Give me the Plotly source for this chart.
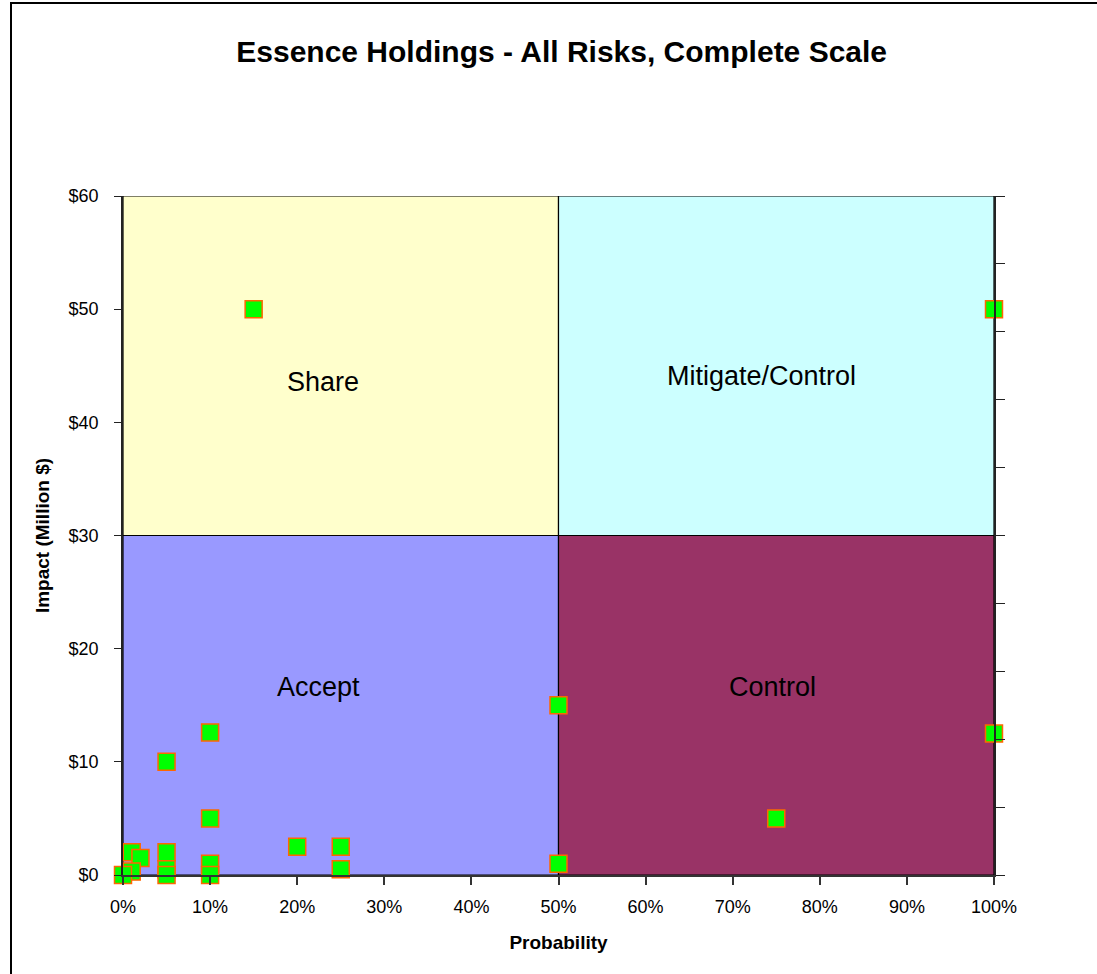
import plotly.graph_objects as go

# Risk register: probability (%) and impact (million $)
probability = [15, 100, 50, 50, 75, 100, 10, 5, 10, 20, 25, 25, 10, 10, 1, 2, 1, 0, 5, 5, 5]
impact = [50, 50, 15, 1, 5, 12.5, 12.6, 10, 5, 2.5, 2.5, 0.5, 1, 0, 2, 1.5, 0.3, 0, 2, 0.5, 0]

# Quadrants: name, x range (%), y range ($M), fill colour
quad_names = ["Accept", "Control", "Share", "Mitigate/Control"]
quad_x0 = [0, 50, 0, 50]
quad_x1 = [50, 100, 50, 100]
quad_y0 = [0, 0, 30, 30]
quad_y1 = [30, 30, 60, 60]
quad_colors = ["#9999FF", "#993366", "#FFFFCC", "#CCFFFF"]
label_x = [22.4, 74.6, 23.0, 73.3]
label_y = [16.6, 16.6, 43.6, 44.1]

x_ticks = list(range(0, 101, 10))
x_tick_text = [f"{v}%" for v in x_ticks]
y_ticks = list(range(0, 61, 10))
y_tick_text = [f"${v}" for v in y_ticks]

FONT = "Liberation Sans, Arial, sans-serif"

fig = go.Figure()

fig.add_trace(go.Scatter(
    x=probability, y=impact, mode="markers",
    marker=dict(symbol="square", size=17, color="#00FF00",
                line=dict(color="#FF6600", width=1.5)),
    cliponaxis=False, showlegend=False, hoverinfo="x+y",
))
# invisible trace so the secondary (right) axis is drawn
fig.add_trace(go.Scatter(x=[0], y=[0], yaxis="y2", mode="markers",
                         marker=dict(opacity=0), showlegend=False, hoverinfo="skip"))

shapes = []
for x0, x1, y0, y1, c in zip(quad_x0, quad_x1, quad_y0, quad_y1, quad_colors):
    shapes.append(dict(type="rect", xref="x", yref="y", x0=x0, x1=x1, y0=y0, y1=y1,
                       fillcolor=c, line=dict(color="black", width=1.2), layer="below"))
# outer frame of the chart area
shapes.append(dict(type="rect", xref="paper", yref="paper",
                   x0=(11 - 123) / 871, x1=(1110 - 123) / 871,
                   y0=(875 - 990) / 679, y1=(875 - 3) / 679,
                   line=dict(color="black", width=2), fillcolor="rgba(0,0,0,0)"))

annotations = [dict(x=lx, y=ly, xref="x", yref="y", text=n, showarrow=False,
                    font=dict(family=FONT, size=27, color="black"))
               for n, lx, ly in zip(quad_names, label_x, label_y)]

fig.update_layout(
    width=1097, height=974,
    margin=dict(l=123, r=103, t=196, b=99),
    paper_bgcolor="white", plot_bgcolor="white",
    font=dict(family=FONT, color="black", size=18),
    title=dict(text="<b>Essence Holdings - All Risks, Complete Scale</b>",
               x=0.512, xanchor="center", y=0.947, yanchor="middle",
               font=dict(family=FONT, size=30, color="black")),
    xaxis=dict(range=[0, 100], tickvals=x_ticks, ticktext=x_tick_text,
               ticks="outside", ticklen=8, tickcolor="#333", tickwidth=1.5,
               ticklabelstandoff=6,
               showline=True, linecolor="#333", linewidth=2,
               showgrid=False, zeroline=False, tickfont=dict(size=18),
               title=dict(text="<b>Probability</b>", font=dict(size=19), standoff=20)),
    yaxis=dict(range=[0, 60], tickvals=y_ticks, ticktext=y_tick_text,
               ticks="outside", ticklen=7, tickcolor="#222", tickwidth=1.2,
               ticklabelstandoff=12,
               showline=True, linecolor="#222", linewidth=1.5,
               showgrid=False, zeroline=False, tickfont=dict(size=18),
               title=dict(text="<b>Impact (Million $)</b>", font=dict(size=19), standoff=14)),
    yaxis2=dict(range=[0, 60], dtick=6, overlaying="y", side="right",
                ticks="outside", ticklen=9, tickcolor="#222", tickwidth=1.2,
                showticklabels=False, showline=True, linecolor="#222", linewidth=1.5,
                showgrid=False, zeroline=False),
    shapes=shapes,
    annotations=annotations,
)

fig.write_html("out.html")
